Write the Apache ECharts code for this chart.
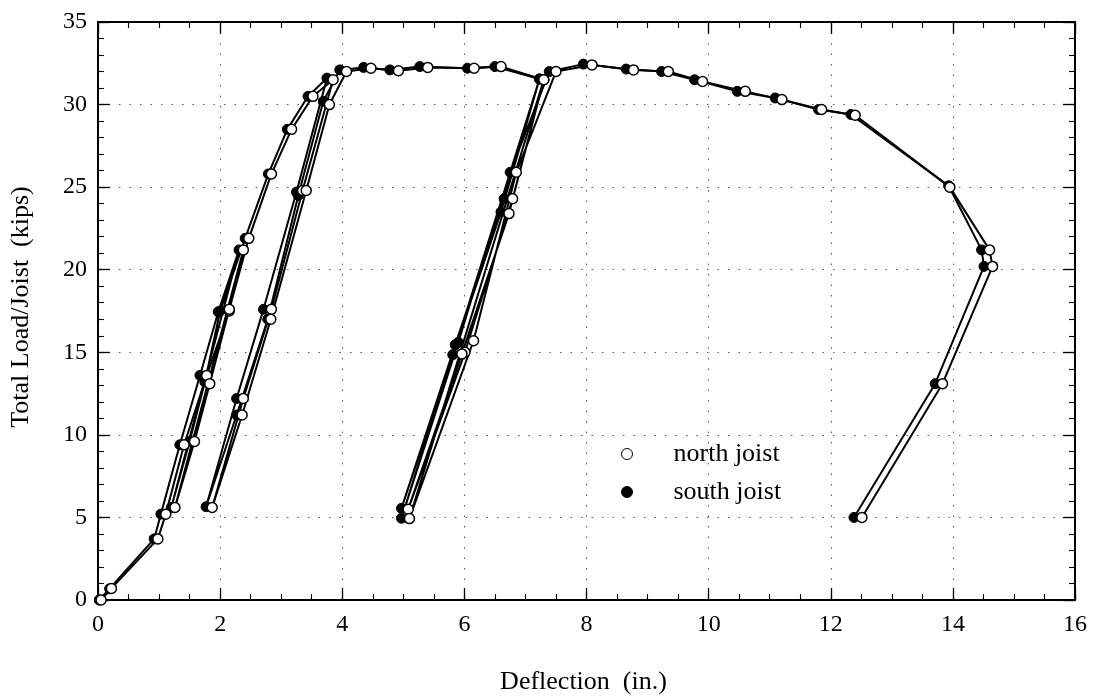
<!DOCTYPE html>
<html>
<head>
<meta charset="utf-8">
<script src="https://cdn.jsdelivr.net/npm/echarts@6/dist/echarts.min.js"></script>
<style>
html,body{margin:0;padding:0;background:#fff;}
#chart{width:1097px;height:700px;}
</style>
</head>
<body>
<div id="chart"></div>
<script>
// Deflection (in.) / Total load per joist (kips), in load-path order
const southDeflection = [0.02,0.19,0.92,1.03,1.34,1.67,1.97,2.31,1.20,1.50,1.75,2.00,2.41,2.79,3.10,3.44,3.75,3.25,2.71,2.27,1.77,2.27,2.78,3.28,3.69,3.96,4.35,4.78,5.27,6.05,6.50,7.23,6.65,5.85,4.97,5.81,6.60,7.23,4.97,5.90,6.75,7.39,7.95,8.65,9.23,9.77,10.47,11.09,11.80,12.33,13.93,14.47,14.51,13.71,12.38];
const southLoad       = [0.0,0.68,3.7,5.2,9.4,13.6,17.45,21.2,5.6,9.6,13.2,17.5,21.9,25.8,28.5,30.5,31.6,24.7,17.6,12.2,5.65,11.2,17.0,24.5,30.2,32.1,32.25,32.1,32.3,32.2,32.3,31.55,24.3,15.45,5.55,14.85,23.5,31.55,4.95,15.6,25.9,32.0,32.45,32.15,32.0,31.5,30.8,30.4,29.7,29.4,25.08,21.2,20.2,13.1,5.0];
const northDeflection = [0.05,0.22,0.98,1.11,1.41,1.78,2.15,2.38,1.26,1.58,1.83,2.15,2.47,2.84,3.17,3.52,3.85,3.35,2.84,2.38,1.87,2.36,2.83,3.41,3.79,4.07,4.47,4.92,5.40,6.16,6.60,7.30,6.79,6.01,5.08,5.96,6.73,7.30,5.10,6.15,6.85,7.50,8.09,8.77,9.34,9.90,10.60,11.20,11.85,12.40,13.95,14.60,14.65,13.83,12.51];
const northLoad       = [0.0,0.7,3.7,5.2,9.4,13.6,17.5,21.2,5.6,9.6,13.1,17.6,21.9,25.8,28.5,30.5,31.5,24.8,17.6,12.2,5.6,11.2,17.0,24.8,30.0,32.0,32.2,32.05,32.25,32.2,32.3,31.5,24.3,15.0,5.5,14.9,23.4,31.5,4.93,15.7,25.9,32.0,32.4,32.1,32.0,31.4,30.8,30.3,29.7,29.35,25.0,21.2,20.2,13.1,5.0];
const xTickValues = [0,2,4,6,8,10,12,14,16];
const yTickValues = [0,5,10,15,20,25,30,35];
const seriesNames = ['north joist','south joist'];
const xTitle = 'Deflection  (in.)';
const yTitle = 'Total Load/Joist  (kips)';

const pairs = (xs, ys) => xs.map((x, i) => [x, ys[i]]);
const font = 'Liberation Serif';
const xMin = xTickValues[0], xMax = xTickValues[xTickValues.length - 1];
const yMin = yTickValues[0], yMax = yTickValues[yTickValues.length - 1];

// major axis: labels/grid (main) or frame only; minor axis: short inside ticks only
function axisCfg(pos, isX, main) {
  return {
    type: 'value',
    min: isX ? xMin : yMin, max: isX ? xMax : yMax, interval: isX ? 2 : 5,
    position: pos,
    axisLine: {show: true, onZero: false, lineStyle: {color: '#000', width: 2}},
    axisTick: {show: true, inside: true, length: 12, lineStyle: {color: '#000', width: 1.3}},
    axisLabel: main ? {fontFamily: font, fontSize: 24, color: '#000', margin: isX ? 13 : 11} : {show: false},
    splitLine: main ? {show: true, lineStyle: {color: '#555', width: 1, type: [1.5, 9]}} : {show: false},
  };
}
function minorCfg(pos, isX) {
  return {
    type: 'value',
    min: isX ? xMin : yMin, max: isX ? xMax : yMax, interval: isX ? 0.5 : 1,
    position: pos, offset: 0,
    axisLine: {show: false, onZero: false},
    axisTick: {show: true, inside: true, length: 6, lineStyle: {color: '#000', width: 1.1}},
    axisLabel: {show: false},
    splitLine: {show: false},
  };
}

const chart = echarts.init(document.getElementById('chart'), null, {renderer: 'canvas'});
chart.setOption({
  backgroundColor: '#fff',
  animation: false,
  grid: {left: 98, right: 22, top: 22, bottom: 100},
  xAxis: [
    Object.assign(axisCfg('bottom', true, true), {
      name: xTitle, nameLocation: 'middle', nameGap: 69,
      nameTextStyle: {fontFamily: font, fontSize: 26, color: '#000', padding: [0, 6, 0, 0]},
    }),
    axisCfg('top', true, false),
    minorCfg('bottom', true),
    minorCfg('top', true),
  ],
  yAxis: [
    Object.assign(axisCfg('left', false, true), {
      name: yTitle, nameLocation: 'middle', nameGap: 64,
      nameTextStyle: {fontFamily: font, fontSize: 26, color: '#000', padding: [0, 0, 0, 8]},
    }),
    axisCfg('right', false, false),
    minorCfg('left', false),
    minorCfg('right', false),
  ],
  legend: {
    orient: 'vertical', left: 616, top: 436, itemGap: 12,
    itemWidth: 11, itemHeight: 11,
    textStyle: {fontFamily: font, fontSize: 26, color: '#000', padding: [0, 0, 0, 36]},
    data: [
      {name: seriesNames[0], icon: 'circle', itemStyle: {color: '#fff', borderColor: '#000', borderWidth: 1}},
      {name: seriesNames[1], icon: 'circle', itemStyle: {color: '#000', borderColor: '#000', borderWidth: 1}},
    ],
  },
  series: [{
    name: seriesNames[1], type: 'line', z: 2,
    data: pairs(southDeflection, southLoad),
    symbol: 'circle', symbolSize: 10,
    itemStyle: {color: '#000', borderColor: '#000', borderWidth: 1},
    lineStyle: {color: '#000', width: 2},
  }, {
    name: seriesNames[0], type: 'line', z: 3,
    data: pairs(northDeflection, northLoad),
    symbol: 'circle', symbolSize: 10,
    itemStyle: {color: '#fff', borderColor: '#000', borderWidth: 1.5},
    lineStyle: {color: '#000', width: 2},
  }],
});
</script>
</body>
</html>
